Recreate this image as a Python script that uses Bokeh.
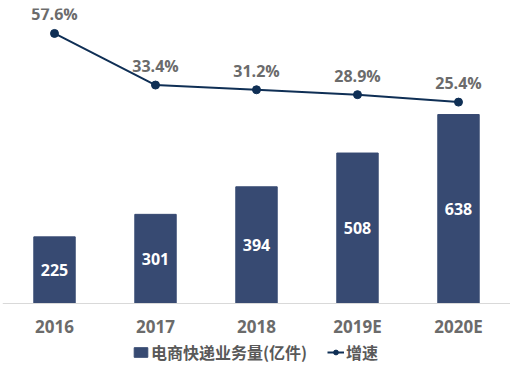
from bokeh.plotting import figure
from bokeh.models import ColumnDataSource, Range1d, Legend, LegendItem, Span
from bokeh.core.properties import value
from bokeh.embed import file_html
from bokeh.resources import INLINE

categories = ["2016", "2017", "2018", "2019E", "2020E"]
volume = [225, 301, 394, 508, 638]          # 电商快递业务量(亿件)
growth = [57.6, 33.4, 31.2, 28.9, 25.4]     # 增速 (%)

BAR = "#374A72"
LINE = "#0F2F55"
GRAY = "#6B6B6B"

xs = list(range(len(categories)))
src = ColumnDataSource(dict(
    x=xs, cat=categories, zero=[0] * len(xs),
    vol=volume, vol_mid=[v / 2 for v in volume], vol_txt=[str(v) for v in volume],
    g=growth, g_txt=[f"{g}%" for g in growth],
))

p = figure(frame_width=508, frame_height=357, output_backend="svg", toolbar_location=None,
           x_range=Range1d(-0.515, 4.515), y_range=Range1d(-209.3, 996),
           min_border_left=2, min_border_right=0, min_border_top=8, min_border_bottom=0)
p.extra_y_ranges = {"g": Range1d(-98.1, 69.3)}
p.outline_line_color = None
p.background_fill_color = "white"
p.grid.visible = False
p.axis.visible = False

# category baseline
p.add_layout(Span(location=0, dimension="width", line_color="#D9D9D9", line_width=1))

bars = p.vbar(x="x", top="vol", width=0.41, source=src, color=BAR)
p.text(x="x", y="vol_mid", text="vol_txt", source=src, text_color="white",
       text_font=value("Open Sans"), text_font_style="bold", text_font_size="16px",
       text_align="center", text_baseline="middle")

ln = p.line(x="x", y="g", source=src, y_range_name="g", line_color=LINE, line_width=2)
pts = p.scatter(x="x", y="g", source=src, y_range_name="g", size=8, color=LINE)
p.text(x="x", y="g", text="g_txt", source=src, y_range_name="g", text_color=GRAY,
       text_font=value("Open Sans"), text_font_style="bold", text_font_size="16px",
       text_align="center", text_baseline="middle", y_offset=-19)

# category (x axis) labels
p.text(x="x", y="zero", text="cat", source=src, text_color=GRAY,
       text_font=value("Open Sans"), text_font_style="bold", text_font_size="17px",
       text_align="center", text_baseline="middle", y_offset=23)

legend = Legend(items=[
    LegendItem(label="电商快递业务量(亿件)", renderers=[bars]),
    LegendItem(label="增速", renderers=[ln, pts]),
], orientation="horizontal", location=(130, 1))
legend.label_text_font = "Noto Sans CJK SC"
legend.label_text_font_style = "bold"
legend.label_text_font_size = "16px"
legend.label_text_color = "#595959"
legend.label_height = 16
legend.border_line_color = None
legend.background_fill_alpha = 0
legend.glyph_width = 17
legend.glyph_height = 12
legend.label_standoff = 2
legend.spacing = 20
legend.padding = 0
legend.margin = 0
p.add_layout(legend, "center")

open("out.html", "w").write(file_html(p, INLINE))
